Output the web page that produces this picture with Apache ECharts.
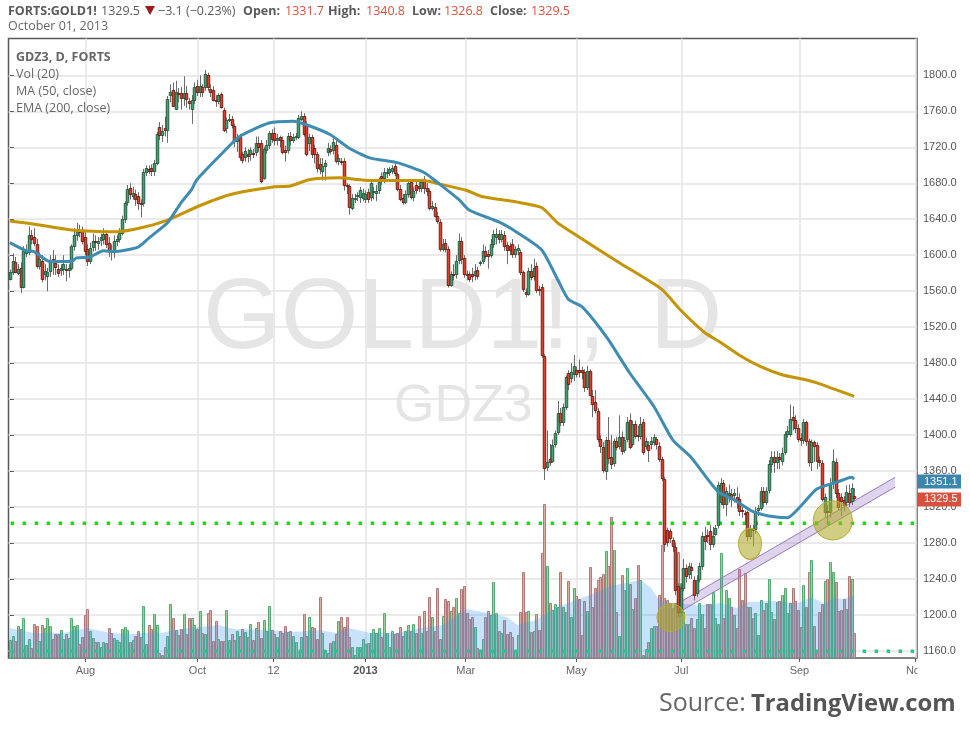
<!DOCTYPE html>
<html>
<head>
<meta charset="utf-8">
<style>
  html, body { margin: 0; padding: 0; background: #fff; }
  #chart { width: 970px; height: 729px; }
</style>
<script src="https://cdn.jsdelivr.net/npm/echarts@6/dist/echarts.min.js"></script>
</head>
<body>
<div id="chart"></div>
<script>
// one row per trading day: open, close, low, high
const candles = [
  [1573,1581,1572,1584],[1581,1594,1578,1602],[1592,1581,1580,1598],[1580,1585,1578,1590],[1586,1565,1558,1592],
  [1565,1605,1563,1610],[1602,1605,1598,1612],[1603,1623,1600,1632],[1622,1618,1612,1628],[1620,1614,1610,1630],
  [1612,1588,1585,1618],[1588,1596,1584,1603],[1593,1573,1570,1600],[1579,1582,1572,1590],[1577,1581,1560,1586],
  [1582,1594,1576,1600],[1596,1595,1578,1606],[1591,1587,1578,1600],[1585,1580,1576,1590],[1584,1586,1577,1590],
  [1585,1590,1578,1600],[1585,1583,1571,1590],[1583,1586,1575,1590],[1586,1610,1583,1612],[1610,1622,1605,1630],
  [1622,1627,1616,1636],[1627,1626,1620,1634],[1627,1616,1612,1632],[1620,1605,1600,1628],[1607,1593,1588,1612],
  [1594,1608,1590,1614],[1609,1616,1604,1624],[1616,1615,1605,1622],[1614,1616,1606,1620],[1617,1620,1610,1624],
  [1618,1624,1612,1630],[1624,1612,1608,1628],[1614,1606,1598,1620],[1606,1605,1594,1612],[1606,1616,1597,1622],
  [1616,1618,1610,1622],[1618,1625,1614,1630],[1625,1640,1622,1644],[1640,1658,1636,1660],[1659,1674,1655,1678],
  [1675,1668,1662,1680],[1666,1669,1662,1676],[1668,1662,1655,1673],[1666,1658,1650,1670],[1658,1657,1642,1662],
  [1658,1693,1654,1696],[1693,1697,1688,1700],[1696,1694,1690,1700],[1697,1694,1688,1701],[1694,1703,1688,1706],
  [1703,1735,1700,1737],[1743,1734,1728,1748],[1734,1738,1726,1745],[1742,1739,1732,1754],[1739,1774,1725,1777],
  [1778,1782,1770,1790],[1784,1766,1765,1792],[1763,1781,1762,1794],[1780,1779,1770,1786],[1780,1775,1762,1787],
  [1775,1780,1766,1799],[1780,1774,1764,1788],[1771,1769,1762,1775],[1763,1773,1746,1778],[1773,1787,1768,1792],
  [1788,1781,1777,1795],[1781,1788,1776,1800],[1787,1781,1776,1790],[1787,1801,1783,1806],[1800,1787,1783,1803],
  [1785,1782,1776,1790],[1784,1773,1771,1788],[1773,1771,1765,1778],[1771,1778,1768,1780],[1779,1765,1763,1781],
  [1762,1739,1737,1764],[1741,1750,1736,1753],[1750,1752,1748,1757],[1752,1745,1741,1755],[1744,1727,1720,1746],
  [1727,1732,1715,1735],[1732,1709,1705,1735],[1712,1706,1702,1715],[1709,1716,1704,1720],[1713,1710,1703,1718],
  [1713,1717,1705,1720],[1714,1713,1708,1718],[1715,1725,1710,1732],[1725,1720,1715,1732],[1725,1683,1680,1728],
  [1686,1718,1684,1720],[1717,1723,1713,1728],[1722,1736,1718,1738],[1736,1729,1725,1740],[1736,1728,1722,1742],
  [1728,1730,1722,1735],[1731,1728,1720,1733],[1728,1715,1712,1732],[1717,1715,1704,1722],[1717,1733,1713,1736],
  [1733,1728,1722,1737],[1728,1731,1725,1735],[1733,1733,1728,1736],[1732,1753,1729,1756],[1752,1755,1749,1760],
  [1755,1735,1732,1758],[1746,1713,1710,1749],[1725,1732,1716,1735],[1732,1712,1708,1734],[1719,1712,1702,1723],
  [1712,1697,1692,1715],[1701,1696,1690,1708],[1694,1699,1683,1708],[1699,1703,1683,1706],[1715,1719,1710,1725],
  [1718,1716,1712,1722],[1717,1726,1712,1730],[1723,1705,1702,1728],[1705,1708,1700,1712],[1705,1704,1700,1708],
  [1705,1678,1672,1708],[1678,1677,1668,1680],[1677,1654,1645,1679],[1653,1664,1650,1668],[1663,1664,1658,1668],
  [1666,1667,1660,1670],[1665,1672,1658,1676],[1664,1669,1660,1674],[1663,1668,1658,1672],[1670,1663,1658,1674],
  [1665,1680,1660,1684],[1670,1671,1662,1676],[1669,1671,1660,1678],[1673,1681,1668,1686],[1688,1686,1678,1692],
  [1686,1693,1680,1697],[1692,1693,1686,1697],[1693,1696,1688,1698],[1694,1697,1690,1700],[1699,1691,1688,1702],
  [1690,1674,1671,1692],[1674,1663,1660,1678],[1664,1659,1656,1668],[1659,1668,1657,1672],[1668,1680,1664,1684],
  [1681,1665,1662,1684],[1665,1671,1660,1676],[1678,1672,1668,1684],[1677,1675,1670,1682],[1675,1681,1670,1684],
  [1684,1675,1668,1688],[1675,1671,1666,1680],[1671,1653,1650,1674],[1653,1655,1650,1660],[1654,1644,1642,1658],
  [1644,1638,1635,1648],[1637,1607,1604,1640],[1607,1613,1604,1618],[1614,1607,1603,1618],[1607,1567,1564,1610],
  [1567,1579,1565,1582],[1579,1578,1572,1590],[1579,1594,1574,1600],[1595,1616,1590,1624],[1616,1596,1590,1620],
  [1597,1579,1575,1600],[1579,1578,1572,1583],[1579,1574,1570,1582],[1579,1577,1570,1586],[1578,1582,1572,1590],
  [1583,1577,1573,1587],[1591,1592,1588,1594],[1594,1605,1590,1612],[1605,1599,1596,1610],[1601,1599,1585,1606],
  [1600,1612,1597,1618],[1612,1624,1608,1628],[1620,1624,1612,1630],[1624,1618,1613,1628],[1618,1624,1614,1628],
  [1623,1610,1605,1627],[1611,1606,1590,1615],[1610,1606,1600,1614],[1612,1601,1597,1618],[1601,1607,1597,1610],
  [1606,1608,1600,1612],[1604,1581,1578,1606],[1581,1562,1559,1583],[1559,1557,1553,1563],[1557,1582,1555,1586],
  [1582,1576,1572,1590],[1577,1586,1572,1596],[1588,1561,1558,1592],[1562,1561,1555,1566],[1565,1489,1486,1568],
  [1488,1363,1350,1490],[1364,1370,1360,1405],[1373,1370,1366,1390],[1371,1389,1369,1395],[1390,1402,1386,1405],
  [1403,1425,1400,1438],[1425,1414,1410,1430],[1414,1431,1410,1435],[1431,1464,1428,1466],[1469,1457,1450,1472],
  [1463,1470,1458,1480],[1468,1477,1460,1489],[1472,1468,1464,1476],[1472,1470,1464,1484],[1472,1470,1462,1476],
  [1470,1453,1448,1473],[1453,1471,1450,1477],[1471,1445,1443,1473],[1443,1435,1420,1450],[1437,1428,1424,1450],
  [1427,1396,1392,1430],[1396,1388,1380,1400],[1387,1361,1358,1392],[1360,1394,1350,1398],[1395,1374,1368,1420],
  [1375,1368,1362,1400],[1369,1393,1365,1396],[1393,1387,1383,1398],[1388,1398,1384,1422],[1398,1382,1378,1404],
  [1383,1394,1380,1398],[1396,1415,1392,1420],[1417,1387,1384,1424],[1390,1412,1387,1416],[1412,1399,1396,1416],
  [1400,1399,1393,1410],[1399,1412,1395,1420],[1414,1381,1378,1418],[1388,1393,1384,1397],[1389,1383,1370,1393],
  [1390,1393,1384,1398],[1392,1398,1388,1401],[1396,1390,1384,1398],[1388,1373,1370,1392],[1373,1352,1349,1376],
  [1351,1279,1270,1353],[1294,1281,1276,1297],[1293,1285,1280,1296],[1283,1277,1270,1286],[1276,1228,1222,1280],
  [1232,1203,1198,1235],[1203,1230,1198,1234],[1230,1252,1226,1262],[1252,1243,1236,1256],[1245,1254,1240,1258],
  [1253,1250,1240,1258],[1239,1222,1216,1243],[1224,1239,1220,1244],[1240,1254,1236,1258],[1254,1288,1250,1292],
  [1288,1282,1272,1298],[1289,1288,1280,1295],[1293,1279,1272,1300],[1279,1288,1275,1298],[1290,1297,1288,1300],
  [1300,1344,1296,1348],[1326,1347,1322,1352],[1347,1323,1318,1350],[1323,1338,1310,1342],[1333,1335,1325,1345],
  [1334,1329,1320,1340],[1333,1335,1325,1340],[1331,1325,1318,1342],[1329,1316,1310,1335],[1317,1315,1308,1320],
  [1313,1312,1300,1316],[1314,1288,1282,1316],[1288,1295,1284,1300],[1296,1294,1276,1300],[1296,1316,1290,1320],
  [1317,1319,1310,1322],[1319,1338,1316,1342],[1338,1325,1320,1342],[1326,1338,1322,1342],[1339,1368,1335,1372],
  [1368,1375,1358,1382],[1375,1370,1358,1382],[1370,1375,1362,1382],[1375,1373,1362,1380],[1371,1380,1366,1386],
  [1381,1401,1378,1404],[1401,1405,1397,1410],[1401,1418,1398,1434],[1420,1417,1405,1432],[1417,1408,1402,1422],
  [1408,1396,1392,1412],[1397,1394,1388,1402],[1394,1414,1390,1418],[1414,1393,1388,1416],[1393,1370,1365,1396],
  [1370,1392,1360,1395],[1392,1388,1370,1394],[1389,1371,1362,1392],[1372,1370,1365,1376],[1369,1329,1326,1372],
  [1314,1331,1308,1335],[1316,1314,1304,1322],[1314,1347,1308,1352],[1347,1371,1340,1384],[1370,1336,1330,1374],
  [1336,1320,1316,1340],[1331,1327,1310,1335],[1328,1322,1315,1332],[1325,1337,1320,1344],[1336,1325,1320,1345],
  [1327,1341,1322,1346],[1331.7,1329.5,1326.8,1340.8]
];

// volume per day, same order as candles (arbitrary units, estimated)
const volumes = [
  18,22,17,32,29,40,13,19,10,34,32,17,33,30,40,32,19,24,24,28,
  19,24,20,40,32,33,14,21,43,49,27,20,16,16,11,16,15,30,25,20,
  18,16,29,31,28,16,18,22,27,21,52,14,33,29,44,33,5,3,11,22,
  54,40,28,23,29,44,24,40,40,33,29,47,25,24,45,48,17,37,19,17,
  17,48,18,24,18,27,22,29,26,21,34,18,30,36,20,38,27,52,28,24,
  21,27,25,32,26,27,22,16,6,21,44,22,41,31,30,19,61,25,8,5,
  15,17,24,37,41,31,41,21,11,3,11,11,19,14,15,25,29,25,30,21,
  45,25,11,27,24,25,31,22,27,33,27,34,25,42,25,47,27,61,41,27,
  70,19,42,59,57,47,51,60,45,69,72,45,39,41,31,10,7,19,41,47,
  43,76,45,27,25,38,24,26,21,8,23,46,86,46,47,26,27,44,28,105,
  154,92,55,48,54,51,86,51,46,77,41,70,62,59,23,57,47,91,51,70,
  78,81,84,107,92,141,108,46,22,83,68,90,74,49,60,93,78,3,9,16,
  30,32,32,63,113,60,58,55,50,55,106,75,46,34,34,40,30,39,55,44,
  30,54,54,66,40,34,105,40,68,60,51,43,30,89,58,85,51,51,40,45,
  23,58,48,55,79,46,39,56,57,63,70,45,55,70,57,48,31,73,51,86,
  98,32,8,46,54,77,79,96,86,76,47,48,59,49,82,79,25
];

// moving averages, as [day, value] read at the bends of each curve
const ma50 = [
  [0,1614],[6,1605],[9,1604],[15,1593],[23,1593],[25,1597],[30,1598],[35,1605],[39,1604],[48,1609],
  [52,1619],[59,1636],[64,1658],[68,1673],[70,1684],[79,1712],[86,1732],[97,1747],[106,1749],[112,1744],
  [120,1734],[127,1719],[135,1708],[145,1703],[155,1692],[160,1681],[168,1662],[172,1650],[183,1637],[190,1625],
  [199,1606],[205,1573],[209,1551],[214,1543],[219,1526],[224,1506],[232,1469],[241,1432],[248,1395],[255,1375],
  [265,1337],[271,1328],[278,1315],[284,1310],[291,1308],[296,1321],[302,1340],[310,1348],[315,1353],[316,1351]
];
const ema200 = [
  [0,1638],[8,1635],[23,1628],[40,1626],[50,1631],[59,1639],[71,1655],[82,1667],[99,1676],[105,1677],
  [112,1684],[123,1686],[135,1683],[155,1683],[161,1679],[171,1672],[177,1665],[190,1659],[199,1653],[205,1636],
  [210,1626],[221,1605],[229,1590],[244,1562],[251,1539],[260,1514],[266,1503],[274,1487],[281,1476],[289,1467],
  [297,1462],[302,1458],[316,1443]
];
const volAvg = [
  [0,30],[9,25],[20,25],[29,30],[38,25],[46,24],[55,26],[57,25],[61,28],[71,31],
  [78,33],[84,29],[96,28],[106,26],[116,28],[122,25],[127,30],[135,25],[144,25],[154,30],
  [162,33],[171,49],[179,45],[186,41],[190,33],[197,38],[204,50],[212,58],[219,65],[225,72],
  [236,78],[240,70],[243,58],[248,55],[258,53],[266,55],[272,50],[276,56],[286,57],[295,55],
  [300,61],[305,54],[308,60],[312,59],[316,63]
];

// drawn annotations: day, price, width, height
const circles = [[247.4,1197,28,28],[277,1279,23,31],[308,1305,39,39]];
const channelTop = [[250.2,1213],[331.3,1353]];
const channelBottom = [[251.6,1205],[331.3,1342]];
const support = [[0.3,1302],[339.5,1302]];
const volFloor = [[0.3,1159.6],[338.6,1159.6]];

const xTickDays = [28.3,70.2,98.7,133.1,170.6,212,251.3,295.5,339];
const xTickNames = ['Aug','Oct','12','2013','Mar','May','Jul','Sep','Nov'];
const yTicks = [1160,1200,1240,1280,1320,1360,1400,1440,1480,1520,1560,1600,1640,1680,1720,1760,1800];
const lastPrices = [[1351.1,'#3c86ad',2.5],[1329.5,'#d9503f',1]];
const indicatorNames = ['Vol (20)','MA (50, close)','EMA (200, close)'];

const font = '"Open Sans", sans-serif';
const hdrGrey = '#5a5a5a', hdrRed = '#d9503f';

// header row as x, text, colour, bold
const header = [
  [8,'FORTS:GOLD1!',hdrGrey,true],[101,'1329.5',hdrGrey,false],[158,'\u22123.1 (\u22120.23%)',hdrGrey,false],
  [243,'Open:',hdrGrey,true],[285,'1331.7',hdrRed,false],[328,'High:',hdrGrey,true],[366,'1340.8',hdrRed,false],
  [412,'Low:',hdrGrey,true],[444,'1326.8',hdrRed,false],[490,'Close:',hdrGrey,true],[531,'1329.5',hdrRed,false]
];

const graphics = [
  { type:'text', z:-5, left:203, top:270, style:{ text:'GOLD1!', font:'100px "Liberation Sans"', fill:'#e5e5e5' } },
  { type:'text', z:-5, left:578, top:270, style:{ text:',', font:'100px "Liberation Sans"', fill:'#e5e5e5' } },
  { type:'text', z:-5, left:650, top:270, style:{ text:'D', font:'100px "Liberation Sans"', fill:'#e5e5e5' } },
  { type:'text', z:-5, left:394, top:381, style:{ text:'GDZ3', font:'52px "Liberation Sans"', fill:'#e5e5e5' } },
  { type:'text', z:20, left:16, top:51, style:{ text:'GDZ3, D, FORTS', font:'bold 12.5px '+font, fill:'#666' } },
  { type:'text', left:8, top:20, style:{ text:'October 01, 2013', font:'12.5px '+font, fill:'#666' } },
  { type:'polygon', shape:{ points:[[145,6],[155,6],[150,15]] }, style:{ fill:'#a01818' } },
  { type:'text', z:20, left:659, top:691, style:{ text:'Source: ', font:'25px '+font, fill:'#666' } },
  { type:'text', z:20, left:751, top:692, style:{ text:'TradingView.com', font:'bold 23.8px '+font, fill:'#555' } },
  // cuts the last month label off at the plot edge
  { type:'rect', z:100, shape:{ x:917.5, y:661, width:52, height:22 }, style:{ fill:'#fff' } }
];
header.forEach(h => graphics.push({ type:'text', left:h[0], top:5,
  style:{ text:h[1], font:(h[3] ? 'bold ' : '')+'12.5px '+font, fill:h[2] } }));
indicatorNames.forEach((t, i) => graphics.push({ type:'text', z:20, left:16, top:68+i*17,
  style:{ text:t, font:'12.5px '+font, fill:'#666' } }));

function renderVolume(params, api) {
  const base = api.coord([api.value(0), 0]);
  const tip = api.coord([api.value(0), api.value(1)]);
  const x0 = Math.round(base[0]) - 0.5;
  const up = candles[params.dataIndex][1] >= candles[params.dataIndex][0];
  const top = Math.round(tip[1]) + 0.5;
  return { type:'rect', shape:{ x:x0, y:top, width:2, height:base[1]-top },
    style:{ fill: up ? 'rgba(125,200,140,0.8)' : 'rgba(215,158,152,0.85)', stroke: up ? '#55ab70' : '#b07a78', lineWidth:1 } };
}

function renderVolAvg(params, api) {
  const pts = volAvg.map(p => api.coord(p));
  pts.push(api.coord([316, 0]), api.coord([0, 0]));
  return { type:'polygon', shape:{ points:pts }, style:{ fill:'rgba(60,150,240,0.28)' } };
}

function renderCandle(params, api) {
  const i = api.value(0), o = api.value(1), c = api.value(2);
  const cx = Math.round(api.coord([i, o])[0]);
  const yO = api.coord([i, o])[1], yC = api.coord([i, c])[1];
  const yL = api.coord([i, api.value(3)])[1], yH = api.coord([i, api.value(4)])[1];
  const top = Math.round(Math.min(yO, yC)) + 0.5, bottom = Math.max(Math.round(Math.max(yO, yC)) + 0.5, top + 1);
  const up = c >= o;
  return { type:'group', children:[
    { type:'line', shape:{ x1:cx+0.5, y1:yH, x2:cx+0.5, y2:yL }, style:{ stroke:'#6b6b6b', lineWidth:1 } },
    { type:'rect', shape:{ x:cx-0.75, y:top, width:2.5, height:bottom-top },
      style:{ fill: up ? '#45a075' : '#e0402f', stroke: up ? '#235c3e' : '#6e2016', lineWidth:1 } }
  ]};
}

function renderChannel(params, api) {
  const t = channelTop.map(p => api.coord(p)), b = channelBottom.map(p => api.coord(p));
  return { type:'group', children:[
    { type:'polygon', shape:{ points:[t[0], t[1], b[1], b[0]] }, style:{ fill:'rgba(140,100,190,0.28)' } },
    { type:'line', shape:{ x1:t[0][0], y1:t[0][1], x2:t[1][0], y2:t[1][1] }, style:{ stroke:'#9a77bd', lineWidth:1 } },
    { type:'line', shape:{ x1:b[0][0], y1:b[0][1], x2:b[1][0], y2:b[1][1] }, style:{ stroke:'#9a77bd', lineWidth:1 } }
  ]};
}

function renderPriceTag(params, api) {
  const y = api.coord([339.5, api.value(0)])[1] + lastPrices[params.dataIndex][2];
  return { type:'group', children:[
    { type:'rect', shape:{ x:917, y:y-7, width:44, height:14 }, style:{ fill:lastPrices[params.dataIndex][1] } },
    { type:'text', x:924, y:y, style:{ text:api.value(0).toFixed(1), font:'11px "Liberation Sans"', fill:'#fff', verticalAlign:'middle' } }
  ]};
}

const chart = echarts.init(document.getElementById('chart'), null, { renderer:'canvas' });
chart.setOption({
  animation:false,
  backgroundColor:'#fff',
  graphic: graphics,
  grid:{ left:8.5, right:53, top:38.5, bottom:71, show:true, borderColor:'#585858', borderWidth:1.5, backgroundColor:'transparent' },
  xAxis:{
    type:'value', min:-0.5, max:339.5, axisLine:{ show:false },
    splitLine:{ show:true, lineStyle:{ color:'#e3e3e3', width:1.5 } },
    axisTick:{ show:true, length:4, customValues:xTickDays, lineStyle:{ color:'#585858' } },
    axisLabel:{
      customValues:xTickDays, margin:7, hideOverlap:false, color:'#666', fontSize:11, fontFamily:'Liberation Sans',
      showMinLabel:true, showMaxLabel:true,
      formatter: v => {
        const name = xTickNames[xTickDays.indexOf(v)];
        return name === '2013' ? '{bold|2013}' : name;
      },
      rich:{ bold:{ fontWeight:'bold', color:'#555', fontSize:11, fontFamily:'Liberation Sans' } }
    }
  },
  yAxis:[{
    type:'value', position:'right', min:1152, max:1841, axisLine:{ show:false },
    splitLine:{ show:true, lineStyle:{ color:'#e3e3e3', width:1.5 } },
    axisTick:{ show:true, length:4, customValues:yTicks, lineStyle:{ color:'#585858' } },
    axisLabel:{ customValues:yTicks, margin:6, color:'#555', fontSize:11, fontFamily:'Liberation Sans',
      formatter: v => v.toFixed(1) }
  },{
    type:'value', min:0, max:620, show:false, splitLine:{ show:false }
  }],
  series:[
    { name:'Vol', type:'custom', yAxisIndex:1, z:2, silent:true, renderItem:renderVolume, encode:{ x:0, y:1 },
      data: volumes.map((v, i) => [i, v]) },
    { name:'Vol avg', type:'custom', yAxisIndex:1, z:3, silent:true, renderItem:renderVolAvg, data:[[0]] },
    { name:'Channel', type:'custom', z:4, silent:true, renderItem:renderChannel, data:[[0]] },
    { name:'Vol floor', type:'line', z:5, silent:true, symbol:'none', data:volFloor,
      lineStyle:{ color:'#2cc48c', width:3.5, type:[3.5,8.5] } },
    { name:'Support', type:'line', z:5, silent:true, symbol:'none', data:support,
      lineStyle:{ color:'#18d820', width:3.5, type:[3.5,8.5] } },
    { name:'Price', type:'custom', z:6, silent:true, renderItem:renderCandle, encode:{ x:0, y:[1,2,3,4] },
      data: candles.map((c, i) => [i].concat(c)) },
    { name:'EMA 200', type:'line', z:7, silent:true, symbol:'none', data:ema200, smooth:0.2,
      lineStyle:{ color:'#c49405', width:3 } },
    { name:'MA 50', type:'line', z:8, silent:true, symbol:'none', data:ma50, smooth:0.2,
      lineStyle:{ color:'#3f8cb3', width:3 } },
    { name:'Marks', type:'scatter', z:9, silent:true,
      data: circles.map(c => ({ value:[c[0], c[1]], symbolSize:[c[2], c[3]] })),
      itemStyle:{ color:'rgba(175,168,40,0.58)', borderColor:'#b5aa35', borderWidth:1, opacity:1 } },
    { name:'Last', type:'custom', z:10, silent:true, clip:false, renderItem:renderPriceTag,
      encode:{ y:0 }, data: lastPrices.map(p => [p[0]]) }
  ]
});
</script>
</body>
</html>
